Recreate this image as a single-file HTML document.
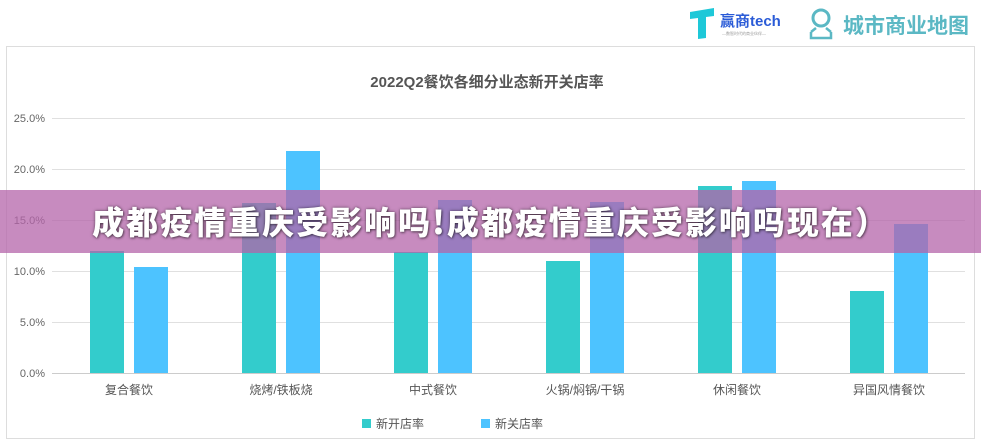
<!DOCTYPE html>
<html><head><meta charset="utf-8"><style>
body{margin:0;width:981px;height:445px;background:#fff;overflow:hidden;font-family:"Liberation Sans","Noto Sans CJK SC",sans-serif;position:relative}
.ban{position:absolute;left:0;top:190px;width:981px;height:63px;background:rgba(180,100,170,0.75);}
.bt{position:absolute;left:0;top:190px;width:981px;height:63px;line-height:63px;text-align:center;color:#fff;font-weight:900;font-size:32px;letter-spacing:2px;text-shadow:0 0 3px rgba(0,0,0,.5),1px 1px 2px rgba(0,0,0,.4);font-family:"Noto Sans CJK SC","Liberation Sans",sans-serif}
</style></head><body>
<svg width="981" height="445" style="position:absolute;left:0;top:0" font-family="Liberation Sans, Noto Sans CJK SC, sans-serif">
<rect x="6.5" y="46.5" width="968" height="392" fill="none" stroke="#ddd"/>
<g transform="translate(688,6)">
<path d="M2 6 L26 2 L26 10 L18 11 L18 32 L10 33 L10 12 L2 13Z" fill="#1ec8d8"/>
<text x="32" y="20" font-size="15" font-weight="bold" fill="#2a5bd7">赢商tech</text>
<text x="34" y="29" font-size="4" fill="#999">—数智时代的商业伙伴—</text>
<circle cx="133" cy="12" r="8" fill="none" stroke="#5bb8c4" stroke-width="3"/>
<path d="M123 26 L128 22 M143 26 L138 22 M123 26 L123 32 L143 32 L143 26" fill="none" stroke="#5bb8c4" stroke-width="2.5"/>
<text x="155" y="27" font-size="21" font-weight="bold" fill="#5bb8c4">城市商业地图</text>
</g>
<text x="487" y="87" text-anchor="middle" font-size="15" font-weight="bold" fill="#555">2022Q2餐饮各细分业态新开关店率</text>
<g stroke="#e0e0e0" stroke-width="1">
<line x1="52" x2="965" y1="118.5" y2="118.5"/><line x1="52" x2="965" y1="169.5" y2="169.5"/><line x1="52" x2="965" y1="220.5" y2="220.5"/><line x1="52" x2="965" y1="271.5" y2="271.5"/><line x1="52" x2="965" y1="322.5" y2="322.5"/>
</g>
<line x1="52" x2="965" y1="373.5" y2="373.5" stroke="#ccc"/>
<g font-size="11" fill="#666" text-anchor="end">
<text x="45" y="122">25.0%</text><text x="45" y="173">20.0%</text><text x="45" y="224">15.0%</text><text x="45" y="275">10.0%</text><text x="45" y="326">5.0%</text><text x="45" y="377">0.0%</text>
</g>
<g fill="#33cccc">
<rect x="90" y="251" width="34" height="122"/>
<rect x="242" y="203" width="34" height="170"/>
<rect x="394" y="252" width="34" height="121"/>
<rect x="546" y="261" width="34" height="112"/>
<rect x="698" y="186" width="34" height="187"/>
<rect x="850" y="291" width="34" height="82"/>
</g>
<g fill="#4dc3ff">
<rect x="134" y="267" width="34" height="106"/>
<rect x="286" y="151" width="34" height="222"/>
<rect x="438" y="200" width="34" height="173"/>
<rect x="590" y="202" width="34" height="171"/>
<rect x="742" y="181" width="34" height="192"/>
<rect x="894" y="224" width="34" height="149"/>
</g>
<g font-size="12" fill="#555" text-anchor="middle">
<text x="129" y="394">复合餐饮</text><text x="281" y="394">烧烤/铁板烧</text><text x="433" y="394">中式餐饮</text><text x="585" y="394">火锅/焖锅/干锅</text><text x="737" y="394">休闲餐饮</text><text x="889" y="394">异国风情餐饮</text>
</g>
<rect x="362" y="419" width="9" height="9" fill="#33cccc"/><text x="376" y="428" font-size="12" fill="#555">新开店率</text>
<rect x="481" y="419" width="9" height="9" fill="#4dc3ff"/><text x="495" y="428" font-size="12" fill="#555">新关店率</text>
</svg>
<div class="ban"></div>
<div class="bt">成都疫情重庆受影响吗!成都疫情重庆受影响吗现在）</div>
</body></html>
